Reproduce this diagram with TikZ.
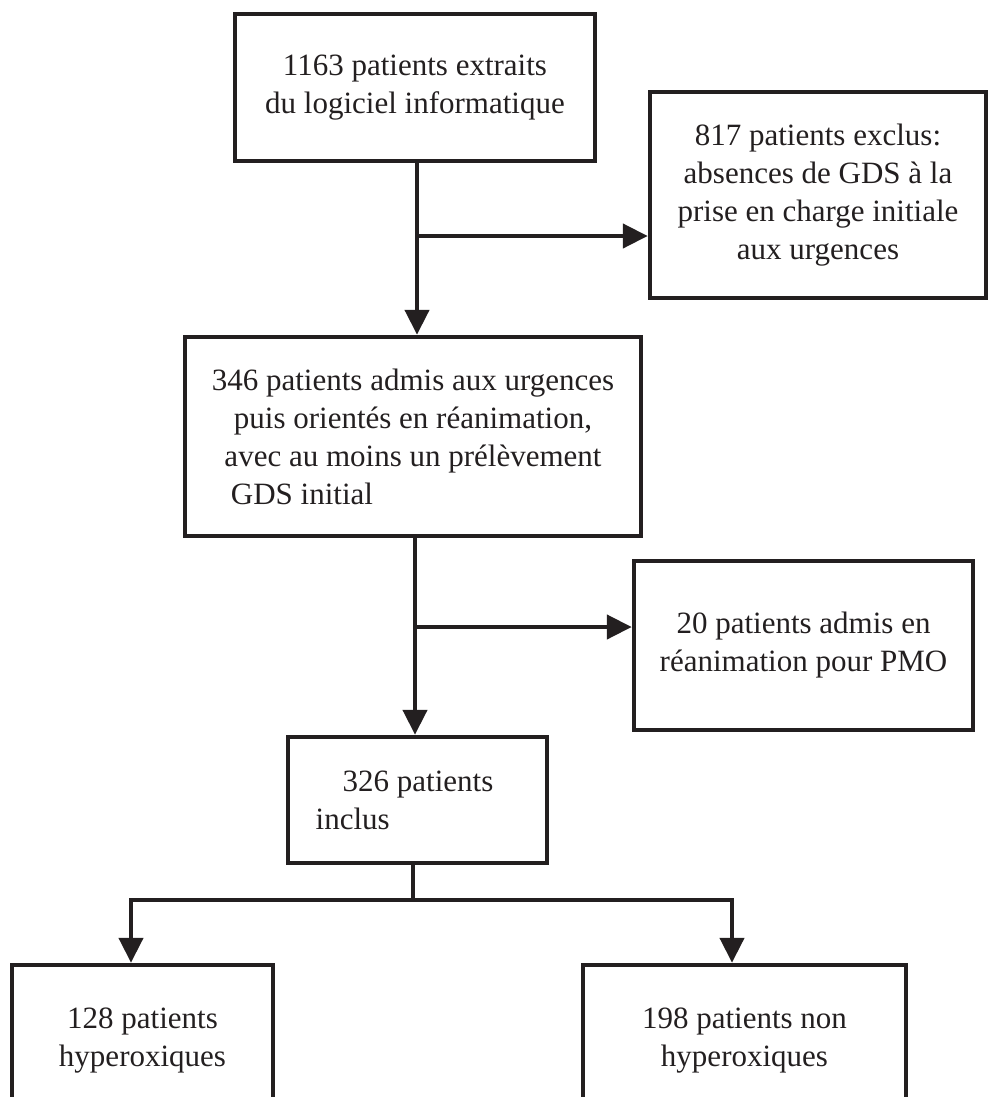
\documentclass[tikz,border=0pt]{standalone}
\usepackage{fontspec}
\setmainfont{Liberation Serif}
\usetikzlibrary{arrows.meta}
\definecolor{ink}{RGB}{35,31,32}

\begin{document}
\begin{tikzpicture}[x=1pt, y=-1pt, line width=4.5pt, draw=ink, text=ink]
        \tikzstyle{box}=[rectangle,draw=ink,line width=4.5pt,inner sep=0pt,align=center,font=\fontsize{31}{38}\selectfont]
        \tikzstyle{arr}=[-{Triangle[length=25pt,width=24pt]}]

        \useasboundingbox (0,0) rectangle (989,1097);
        \clip (0,0) rectangle (989,1097);

        \node[box, minimum width=360pt, minimum height=147pt] (extraits) at (415,87.5) {1163 patients extraits\\du logiciel informatique};
        \node[box, minimum width=336pt, minimum height=206pt] (exclus) at (818,195) {817 patients exclus:\\absences de GDS à la\\prise en charge initiale\\aux urgences};
        \node[box, minimum width=456pt, minimum height=199pt] (admis) at (413,436.5) {346 patients admis aux urgences\\puis orientés en réanimation,\\avec au moins un prélèvement\\GDS initial\hspace*{222pt}};
        \node[box, minimum width=339pt, minimum height=169pt] (pmo) at (803.5,645.5) {20 patients admis en\\réanimation pour PMO};
        \node[box, align=left, minimum width=259pt, minimum height=126pt] (inclus) at (417.5,800) {\hspace*{27pt}326 patients\hspace*{26pt}\\inclus};
        \node[box, minimum width=261pt, minimum height=152pt] (hyper) at (142.5,1041) {128 patients\\hyperoxiques};
        \node[box, minimum width=323pt, minimum height=152pt] (nonhyper) at (744.5,1041) {198 patients non\\hyperoxiques};

        % branch points
        \coordinate (j1) at (417,236);
        \coordinate (j2) at (415,627);
        \coordinate (j3) at (413,900);
        \coordinate (t6) at (131,0);
        \coordinate (t7) at (732,0);

        \draw[arr] (extraits.south -| j1) -- (j1 |- admis.north);
        \draw[arr] (j1) -- (j1 -| exclus.west);
        \draw[arr] (admis.south -| j2) -- (j2 |- inclus.north);
        \draw[arr] (j2) -- (j2 -| pmo.west);
        \draw (inclus.south -| j3) -- (j3);
        \draw[arr] (j3) -| (t6 |- hyper.north);
        \draw[arr] (j3) -| (t7 |- nonhyper.north);
    \end{tikzpicture}
\end{document}
